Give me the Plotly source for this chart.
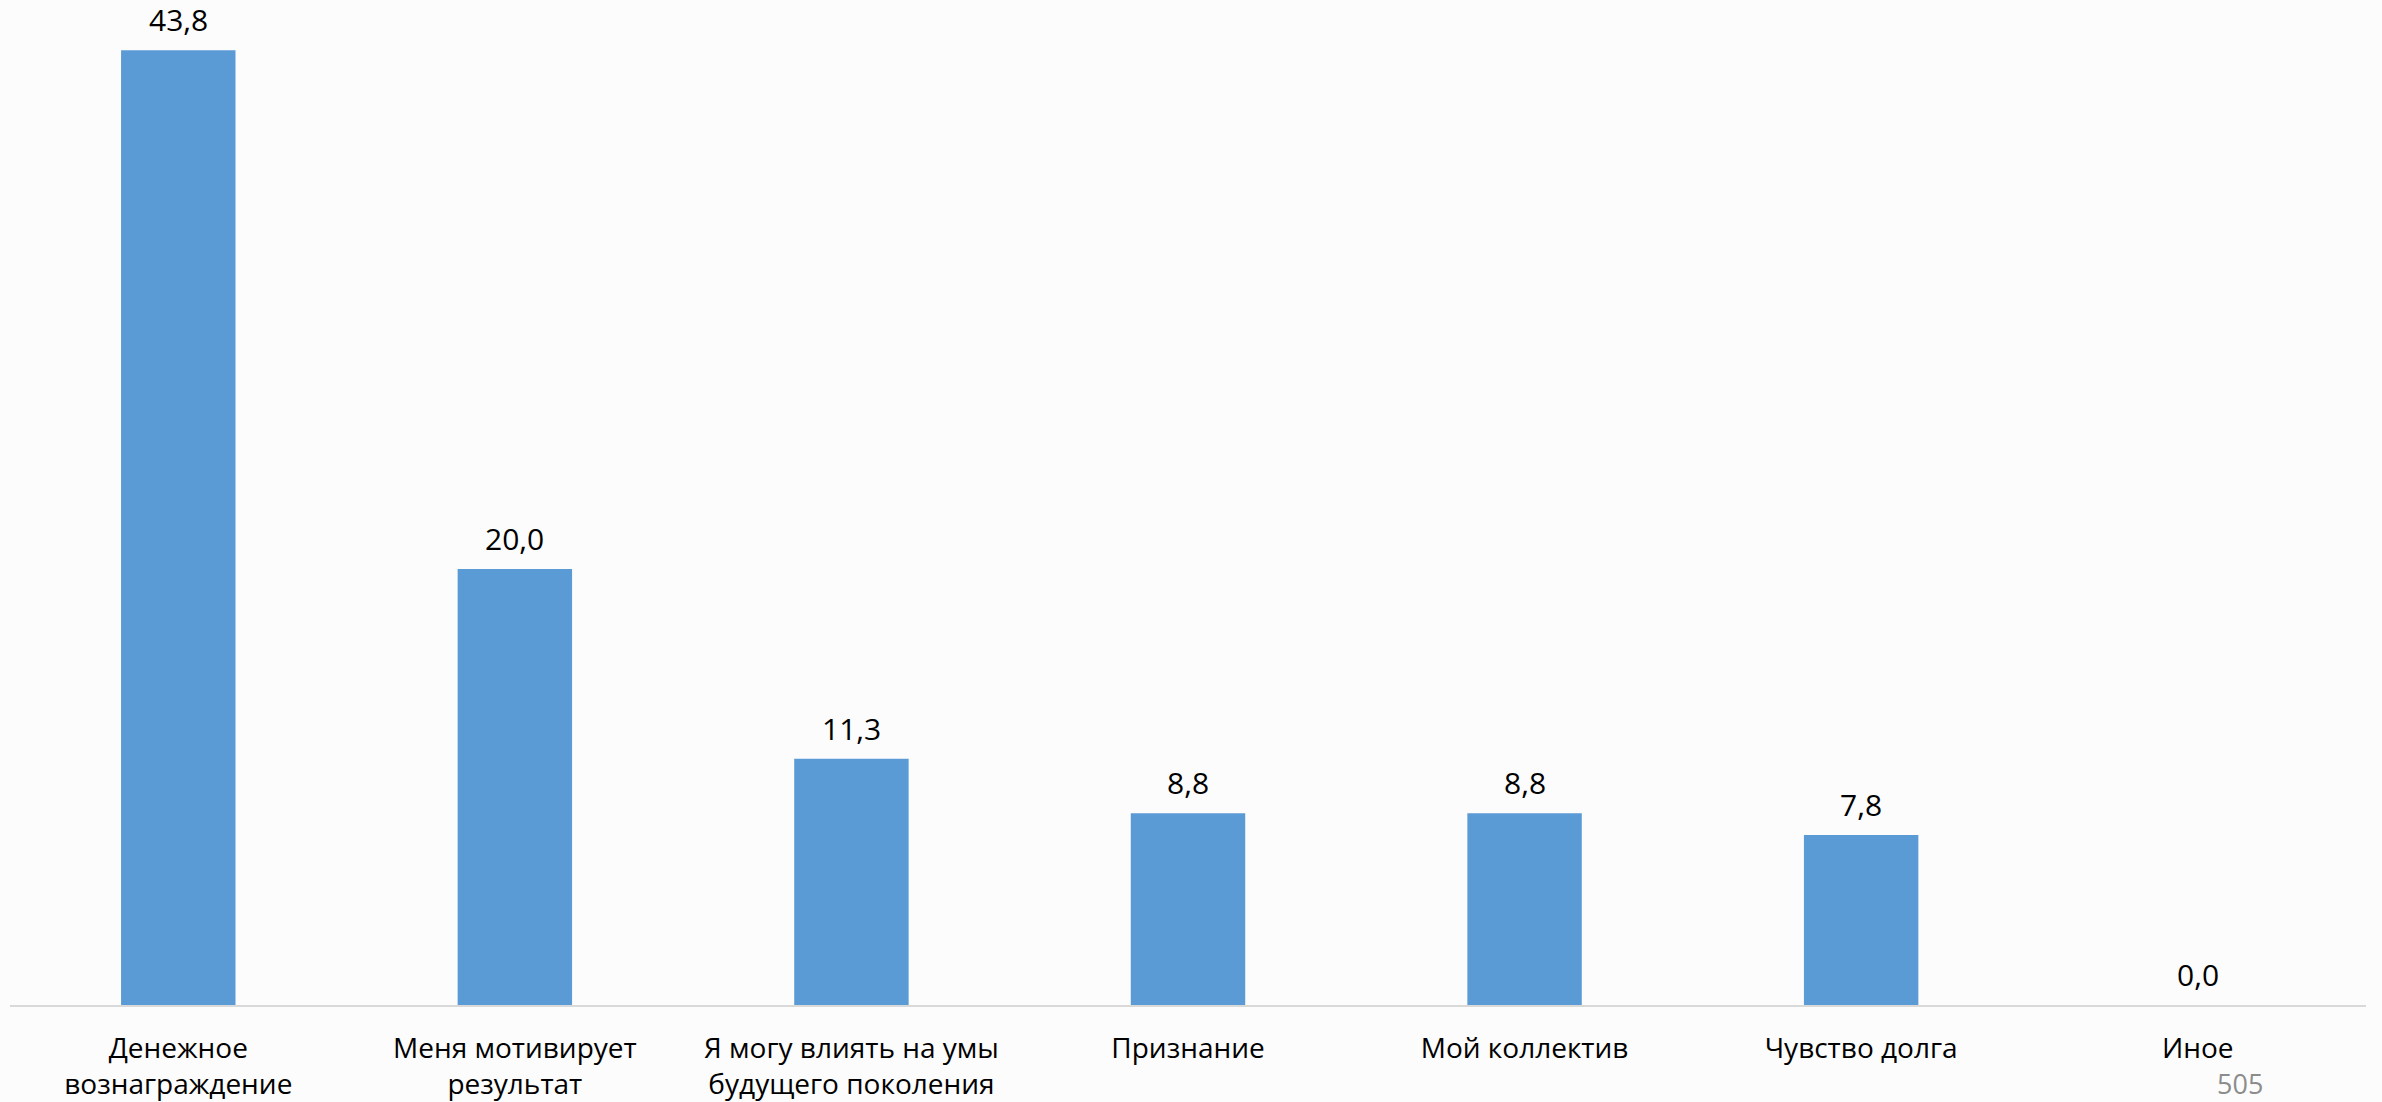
import plotly.graph_objects as go

categories = ["Денежное<br>вознаграждение", "Меня мотивирует<br>результат",
              "Я могу влиять на умы<br>будущего поколения", "Признание",
              "Мой коллектив", "Чувство долга", "Иное"]
values = [43.8, 20.0, 11.3, 8.8, 8.8, 7.8, 0.0]
labels = [f"{v:.1f}".replace(".", ",") for v in values]
page_number = "505"

W, H = 2382, 1102
ML, MR, MT, MB = 10, 16, 0, 97
PW, PH = W - ML - MR, H - MT - MB

fig = go.Figure(go.Bar(
    x=categories, y=values,
    marker=dict(color="#5B9BD5", line=dict(width=0)),
    cliponaxis=False, hoverinfo="skip",
))
annotations = [dict(x=c, y=v, text=t, xref="x", yref="y", showarrow=False,
                    xanchor="center", yanchor="bottom", yshift=9, borderpad=0,
                    font=dict(size=30, color="#000000", family="Open Sans"))
               for c, v, t in zip(categories, values, labels)]
annotations.append(dict(text=page_number, x=(2240 - ML) / PW, y=(PH - 1083) / PH,
                        xref="paper", yref="paper", showarrow=False,
                        xanchor="center", yanchor="middle",
                        font=dict(size=27, color="#8C8C8C", family="Open Sans")))
fig.update_layout(
    width=W, height=H,
    margin=dict(l=ML, r=MR, t=MT, b=MB, autoexpand=False),
    paper_bgcolor="#FCFCFC", plot_bgcolor="#FCFCFC",
    bargap=0.66, showlegend=False,
    font=dict(family="Open Sans", size=28, color="#000000"),
    xaxis=dict(showline=True, linecolor="#D9D9D9", linewidth=2, ticks="",
               tickfont=dict(size=28), showgrid=False, automargin=False,
               ticklabelstandoff=17),
    yaxis=dict(range=[0, 46.1], visible=False, showgrid=False, automargin=False),
    annotations=annotations,
)
fig.write_html("out.html", config={"displayModeBar": False},
               post_script="document.body.style.margin='0';document.body.style.overflow='hidden';")
